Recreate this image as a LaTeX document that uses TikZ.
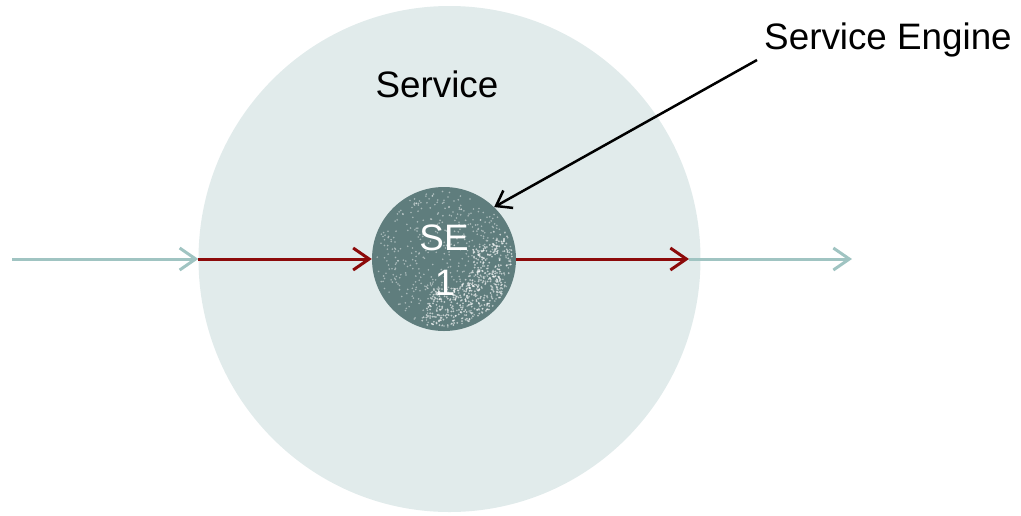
\documentclass[tikz,border=0pt]{standalone}
\usepackage{fontspec}
\setmainfont{Liberation Sans}
\usetikzlibrary{arrows.meta,shapes.geometric,calc}
\definecolor{svcfill}{RGB}{225,235,235}
\definecolor{flowteal}{RGB}{160,196,194}
\definecolor{flowred}{RGB}{140,10,10}
\definecolor{enginefill}{RGB}{95,125,125}
\tikzset{
  bigfont/.style={font=\fontsize{36.8}{45}\selectfont},
  flow/.style={line width=3pt, -{Straight Barb[length=16pt,width=22pt,line width=3pt]}},
  pointer/.style={line width=2.5pt, black, -{Straight Barb[length=14pt,width=20pt,line width=2.5pt]}},
}
\begin{document}
\begin{tikzpicture}[x=1pt,y=-1pt]
\useasboundingbox (0,0) rectangle (1021,515);
% outer service boundary
\node[ellipse, fill=svcfill, minimum width=502pt, minimum height=506pt, inner sep=0pt] (service) at (449.5,259) {};
% engine disc
\node[circle, fill=enginefill, minimum size=144pt, inner sep=0pt] (se) at (444,259) {};
% grainy texture on the engine disc
\pgfmathsetseed{17}
\foreach \i in {1,...,500}{
  \pgfmathsetmacro\rr{68*sqrt(rnd)}
  \pgfmathsetmacro\aa{360*rnd}
  \fill[white, opacity=0.45] ($(se.center)+(\aa:\rr)$) circle (0.9);
}
\foreach \i in {1,...,450}{
  \pgfmathsetmacro\rr{30+38*rnd}
  \pgfmathsetmacro\aa{-20+130*rnd}
  \fill[white, opacity=0.6] ($(se.center)+(\aa:\rr)$) circle (1.0);
}
% labels
\node[bigfont, anchor=base] (svclabel) at (437,97) {Service};
\node[bigfont, anchor=base] (selabel) at (888,49) {Service Engine};
\node[bigfont, white, anchor=base] (setop) at (444,250) {SE};
\node[bigfont, white, anchor=base] (sebot) at (445,295) {1};
% flow through the service
\coordinate (inflow) at (12,259);
\coordinate (handoff) at (689,259);
\coordinate (outflow) at (852,259);
\draw[flow, flowteal] (inflow) -- (service.west);
\draw[flow, flowred] (service.west) -- (se.west);
\draw[flow, flowred] (se.east) -- (handoff);
\draw[flow, flowteal] (handoff) -- (outflow);
% pointer to the engine
\coordinate (ptrstart) at (757,60);
\draw[pointer] (ptrstart) -- (se.46);
\end{tikzpicture}
\end{document}
